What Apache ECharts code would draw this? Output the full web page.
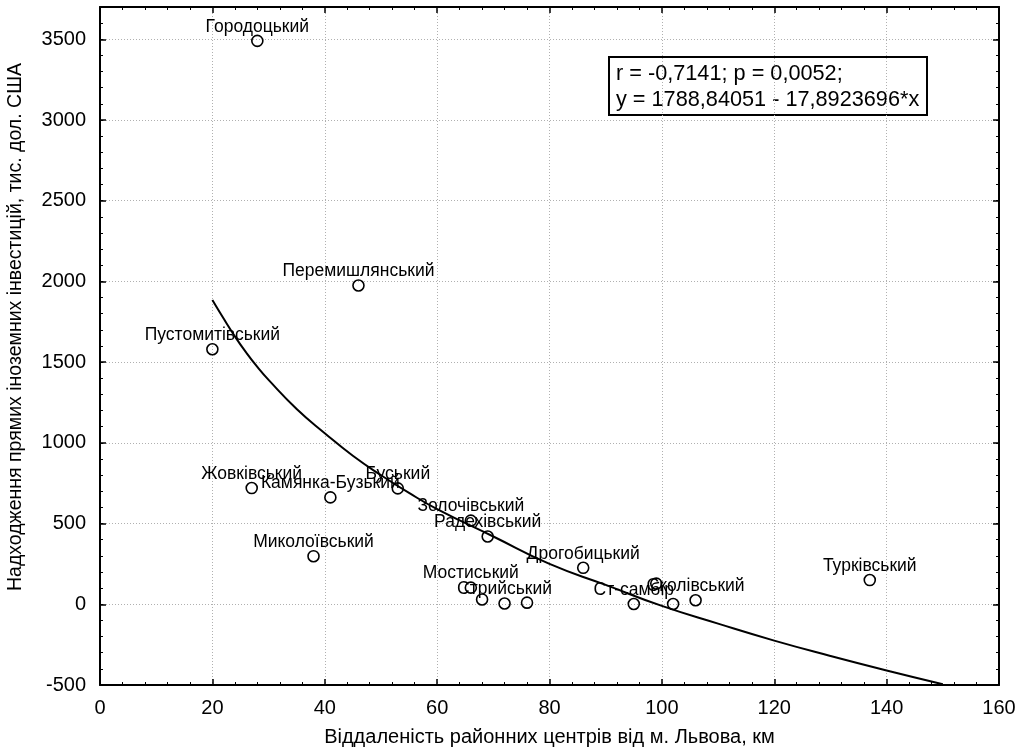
<!DOCTYPE html>
<html><head><meta charset="utf-8">
<script src="https://cdn.jsdelivr.net/npm/echarts@6/dist/echarts.min.js"></script>
<style>html,body{margin:0;padding:0;background:#fff}#c{width:1027px;height:755px}</style>
</head><body><div id="c"></div>
<script>
// District labels (empty = point drawn without label in the reference)
const districtNames = ['Городоцький','Перемишлянський','Пустомитівський','Жовківський','Камянка-Бузький','Буський','Миколоївський','Золочівський','Радехівський','Дрогобицький','Мостиський','','Стрийський','','Ст-самбір','','','Сколівський','Турківський'];
// Distance of district centre from Lviv, km
const distanceKm = [28, 46, 20, 27, 41, 53, 38, 66, 69, 86, 66, 68, 72, 76, 95, 99, 102, 106, 137];
// Foreign direct investment inflow, thousand USD
const investment = [3490, 1975, 1580, 720, 662, 718, 298, 518, 420, 226, 103, 30, 5, 10, 2, 128, 2, 25, 150];
// Fitted curve
const fitX = [20, 22, 24, 26, 28, 30, 35, 40, 45, 50, 55, 60, 70, 80, 90, 100, 110, 120, 130, 140, 150];
const fitY = [1885, 1770, 1660, 1560, 1470, 1390, 1210, 1060, 920, 800, 690, 590, 420, 250, 120, -10, -120, -225, -320, -410, -495];
const annotLine1 = 'r = -0,7141; p = 0,0052;';
const annotLine2 = 'y = 1788,84051 - 17,8923696*x';
const xTitle = 'Віддаленість районних центрів від м. Львова, км';
const yTitle = 'Надходження прямих іноземних інвестицій, тис. дол. США';

const FONT = 'Liberation Sans, Arial, sans-serif';
const chart = echarts.init(document.getElementById('c'), null, {renderer: 'canvas'});
const pts = districtNames.map((n, i) => ({name: n, value: [distanceKm[i], investment[i]]}));
const curve = fitX.map((x, i) => [x, fitY[i]]);
const black = '#000';
const gridLine = {show: true, lineStyle: {color: '#b0b0b0', type: [1, 2], width: 1}};
const plain = v => String(v);

const xBase = {type: 'value', min: 0, max: 160, interval: 20,
  axisLine: {show: true, onZero: false, lineStyle: {color: black, width: 2}},
  axisTick: {show: true, inside: true, length: 6, lineStyle: {color: black, width: 1.5}},
  minorTick: {show: true, splitNumber: 5, length: 3, lineStyle: {color: black, width: 1}}};

const option = {
  animation: false,
  backgroundColor: '#fff',
  grid: {left: 100, right: 28, top: 7, bottom: 70, containLabel: false, outerBoundsMode: 'none'},
  xAxis: [
    Object.assign({}, xBase, {position: 'bottom',
      splitLine: gridLine,
      axisLabel: {show: true, fontSize: 20, color: black, fontFamily: FONT, margin: 13, formatter: plain},
      name: xTitle, nameLocation: 'middle', nameGap: 42,
      nameTextStyle: {fontSize: 20, color: black, fontFamily: FONT}}),
    Object.assign({}, xBase, {position: 'top', splitLine: {show: false}, axisLabel: {show: false}})
  ],
  yAxis: [
    {type: 'value', position: 'left', min: -500, max: 3700, interval: 500,
      axisLine: {show: true, onZero: false, lineStyle: {color: black, width: 2}},
      axisTick: {show: true, inside: true, length: 6, lineStyle: {color: black, width: 1.5}},
      axisLabel: {show: true, fontSize: 20, color: black, fontFamily: FONT, margin: 14, showMaxLabel: false, formatter: plain},
      splitLine: gridLine,
      name: yTitle, nameLocation: 'middle', nameGap: 74,
      nameTextStyle: {fontSize: 19.5, color: black, fontFamily: FONT, padding: [0, 0, 0, 38]}},
    {type: 'value', position: 'left', min: -500, max: 3700, interval: 100,
      axisLine: {show: false, onZero: false},
      axisTick: {show: true, inside: true, length: 3, lineStyle: {color: black, width: 1}},
      axisLabel: {show: false}, splitLine: {show: false}},
    {type: 'value', position: 'right', min: -500, max: 3700, interval: 500,
      axisLine: {show: true, onZero: false, lineStyle: {color: black, width: 2}},
      axisTick: {show: true, inside: true, length: 6, lineStyle: {color: black, width: 1.5}},
      axisLabel: {show: false}, splitLine: {show: false}},
    {type: 'value', position: 'right', min: -500, max: 3700, interval: 100,
      axisLine: {show: false, onZero: false},
      axisTick: {show: true, inside: true, length: 3, lineStyle: {color: black, width: 1}},
      axisLabel: {show: false}, splitLine: {show: false}}
  ],
  series: [
    {type: 'line', xAxisIndex: 0, yAxisIndex: 0, data: curve, smooth: true, showSymbol: false,
      symbol: 'none', silent: true, lineStyle: {color: black, width: 2}, z: 3},
    {type: 'scatter', xAxisIndex: 0, yAxisIndex: 0, data: pts, symbol: 'circle', symbolSize: 11,
      itemStyle: {color: 'rgba(255,255,255,0)', borderColor: black, borderWidth: 1.6, opacity: 1},
      label: {show: true, position: 'inside', offset: [0, -14], formatter: '{b}',
        fontSize: 17.5, color: black, fontFamily: FONT}, z: 4}
  ],
  graphic: [{type: 'group', left: 608, top: 56, children: [
    {type: 'rect', shape: {x: 0, y: 0, width: 318, height: 58},
      style: {fill: '#fff', stroke: black, lineWidth: 2}},
    {type: 'text', x: 7, y: 17, style: {text: annotLine1, font: '21.7px ' + FONT, fill: black, verticalAlign: 'middle'}},
    {type: 'text', x: 7, y: 43, style: {text: annotLine2, font: '21.7px ' + FONT, fill: black, verticalAlign: 'middle'}}
  ]}]
};
chart.setOption(option);
</script>
</body></html>
